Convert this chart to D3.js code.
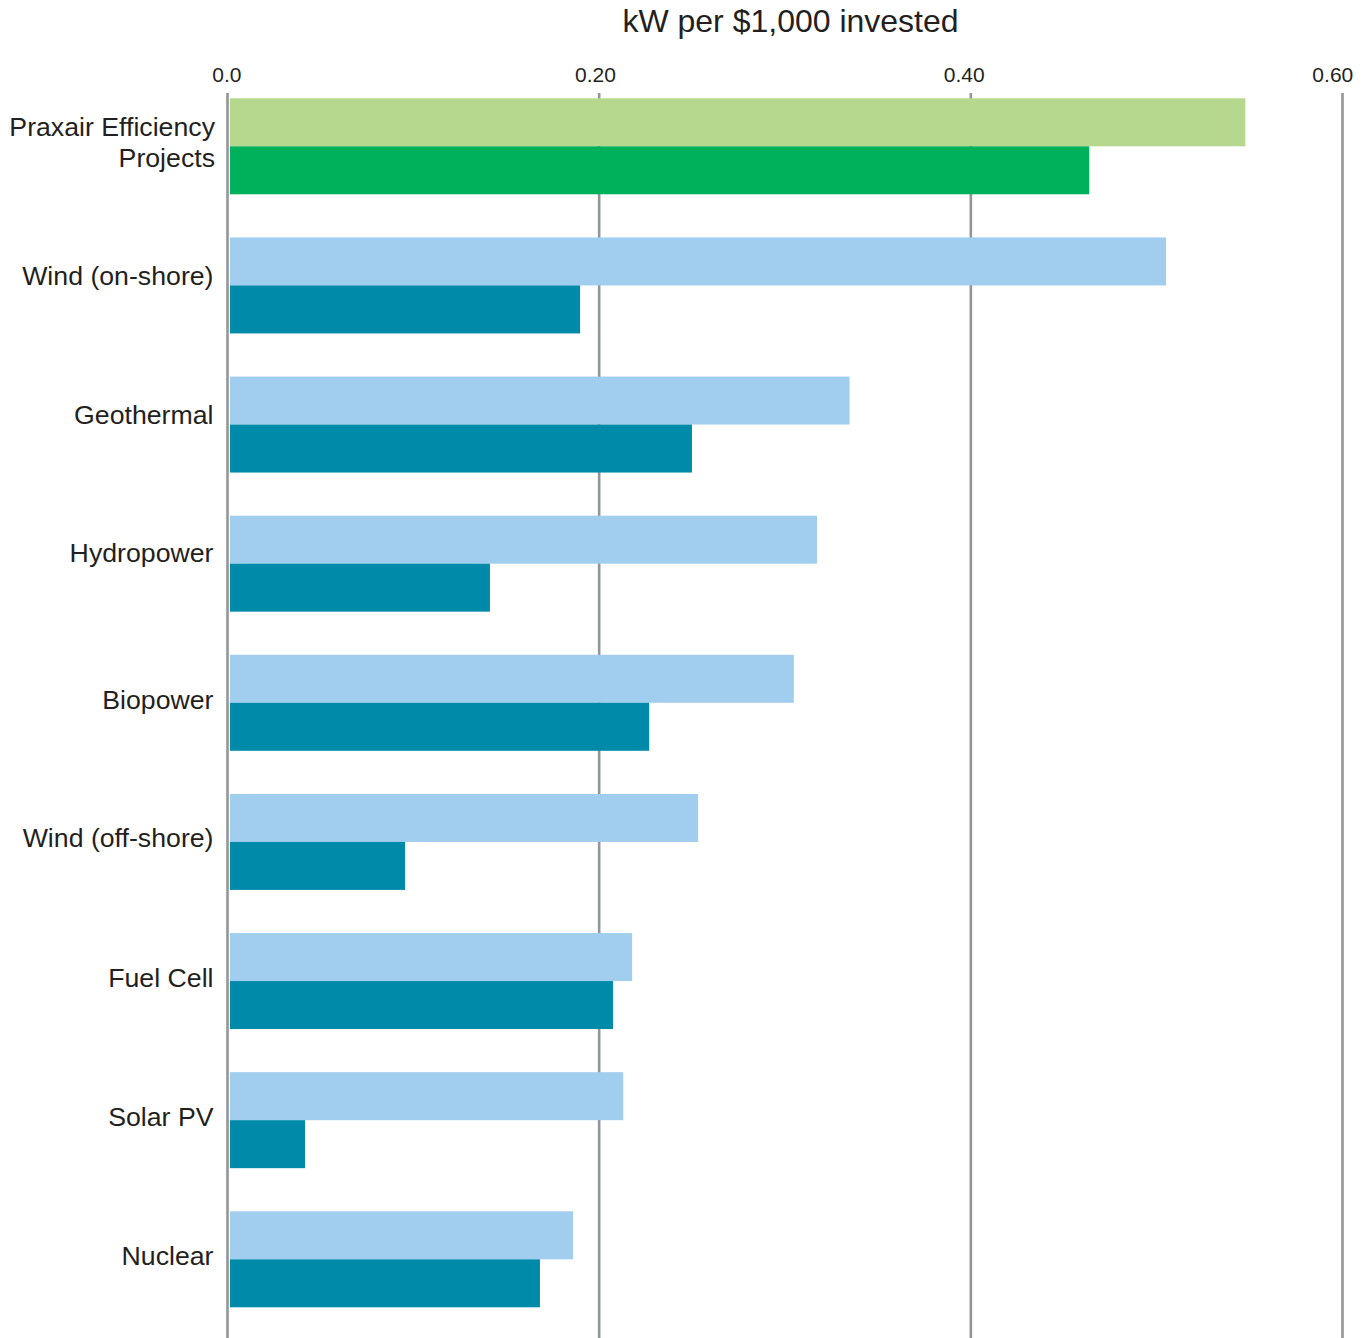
<!DOCTYPE html>
<html>
<head>
<meta charset="utf-8">
<script src="https://cdn.jsdelivr.net/npm/d3@7"></script>
<style>
  html, body { margin: 0; padding: 0; background: #fff; }
  svg { display: block; }
  text { font-family: "Liberation Sans", Arial, Helvetica, sans-serif; fill: #231f20; }
</style>
</head>
<body>
<svg id="chart" width="1369" height="1338"></svg>
<script>
// ---- Data ----
const categories = [
  "Praxair Efficiency Projects",
  "Wind (on-shore)",
  "Geothermal",
  "Hydropower",
  "Biopower",
  "Wind (off-shore)",
  "Fuel Cell",
  "Solar PV",
  "Nuclear"
];
const categoryLines = [
  ["Praxair Efficiency", "Projects"],
  ["Wind (on-shore)"],
  ["Geothermal"],
  ["Hydropower"],
  ["Biopower"],
  ["Wind (off-shore)"],
  ["Fuel Cell"],
  ["Solar PV"],
  ["Nuclear"]
];
const seriesUpper = [0.548, 0.5053, 0.335, 0.3175, 0.305, 0.2535, 0.218, 0.2132, 0.1862];
const seriesLower = [0.464, 0.190, 0.2502, 0.1415, 0.2272, 0.0958, 0.2077, 0.0420, 0.1684];
const tickValues = [0, 0.2, 0.4, 0.6];
const tickLabels = ["0.0", "0.20", "0.40", "0.60"];
const axisTitle = "kW per $1,000 invested";
const upperColors = ["#b5d88e", "#a1cdee", "#a1cdee", "#a1cdee", "#a1cdee", "#a1cdee", "#a1cdee", "#a1cdee", "#a1cdee"];
const lowerColors = ["#00b15b", "#008aa9", "#008aa9", "#008aa9", "#008aa9", "#008aa9", "#008aa9", "#008aa9", "#008aa9"];

// ---- Layout ----
const svg = d3.select("#chart");
const W = 1369, H = 1338;
const gridTop = 93;
const barStartOffset = 3;
const labelBaselineOffsets = [[38, 69], [48], [47], [46], [54], [53], [54], [54], [54]];

const x = d3.scaleLinear().domain([0, 0.6]).range([227, 1342]);
const xLabel = d3.scaleLinear().domain([0, 0.6]).range([226.3, 1332.3]);
const y = d3.scaleBand().domain(categories).range([98.3, 1307.3]).paddingInner(0.31).paddingOuter(0);
const bw = y.bandwidth() / 2;

// Gridlines
const axis = d3.axisTop(x)
  .tickValues(tickValues)
  .tickFormat("")
  .tickSize(-(H - gridTop));

const gAxis = svg.append("g")
  .attr("transform", `translate(0,${gridTop})`)
  .call(axis);
gAxis.select(".domain").remove();
gAxis.selectAll(".tick line")
  .attr("stroke", "#939598")
  .attr("stroke-width", 2.6);

// Tick labels
const gLab = svg.append("g")
  .attr("transform", `translate(0,${gridTop})`)
  .call(d3.axisTop(xLabel).tickValues(tickValues).tickFormat((d, i) => tickLabels[i]).tickSize(0).tickPadding(11));
gLab.select(".domain").remove();
gLab.selectAll(".tick text")
  .attr("font-size", 21)
  .attr("fill", "#231f20")
  .style("font-family", "'Liberation Sans', Arial, sans-serif");

// Title
svg.append("text")
  .attr("x", 790.5)
  .attr("y", 32)
  .attr("text-anchor", "middle")
  .attr("font-size", 32)
  .text(axisTitle);

// Bars
const rows = svg.append("g").selectAll("g.row")
  .data(categories)
  .join("g")
  .attr("class", "row");

rows.append("rect")
  .attr("x", x(0) + barStartOffset)
  .attr("y", d => y(d))
  .attr("width", (d, i) => x(seriesUpper[i]) - x(0) - barStartOffset)
  .attr("height", bw)
  .attr("fill", (d, i) => upperColors[i]);

rows.append("rect")
  .attr("x", x(0) + barStartOffset)
  .attr("y", d => y(d) + bw)
  .attr("width", (d, i) => x(seriesLower[i]) - x(0) - barStartOffset)
  .attr("height", bw)
  .attr("fill", (d, i) => lowerColors[i]);

// Category labels
categories.forEach((c, i) => {
  const lines = categoryLines[i];
  const top = Math.round(y(c));
  const t = svg.append("text")
    .attr("text-anchor", "end")
    .attr("font-size", 26.7);
  lines.forEach((ln, j) => {
    t.append("tspan")
      .attr("x", lines.length > 1 ? 215 : 213.5)
      .attr("y", top + labelBaselineOffsets[i][j])
      .text(ln);
  });
});
</script>
</body>
</html>
